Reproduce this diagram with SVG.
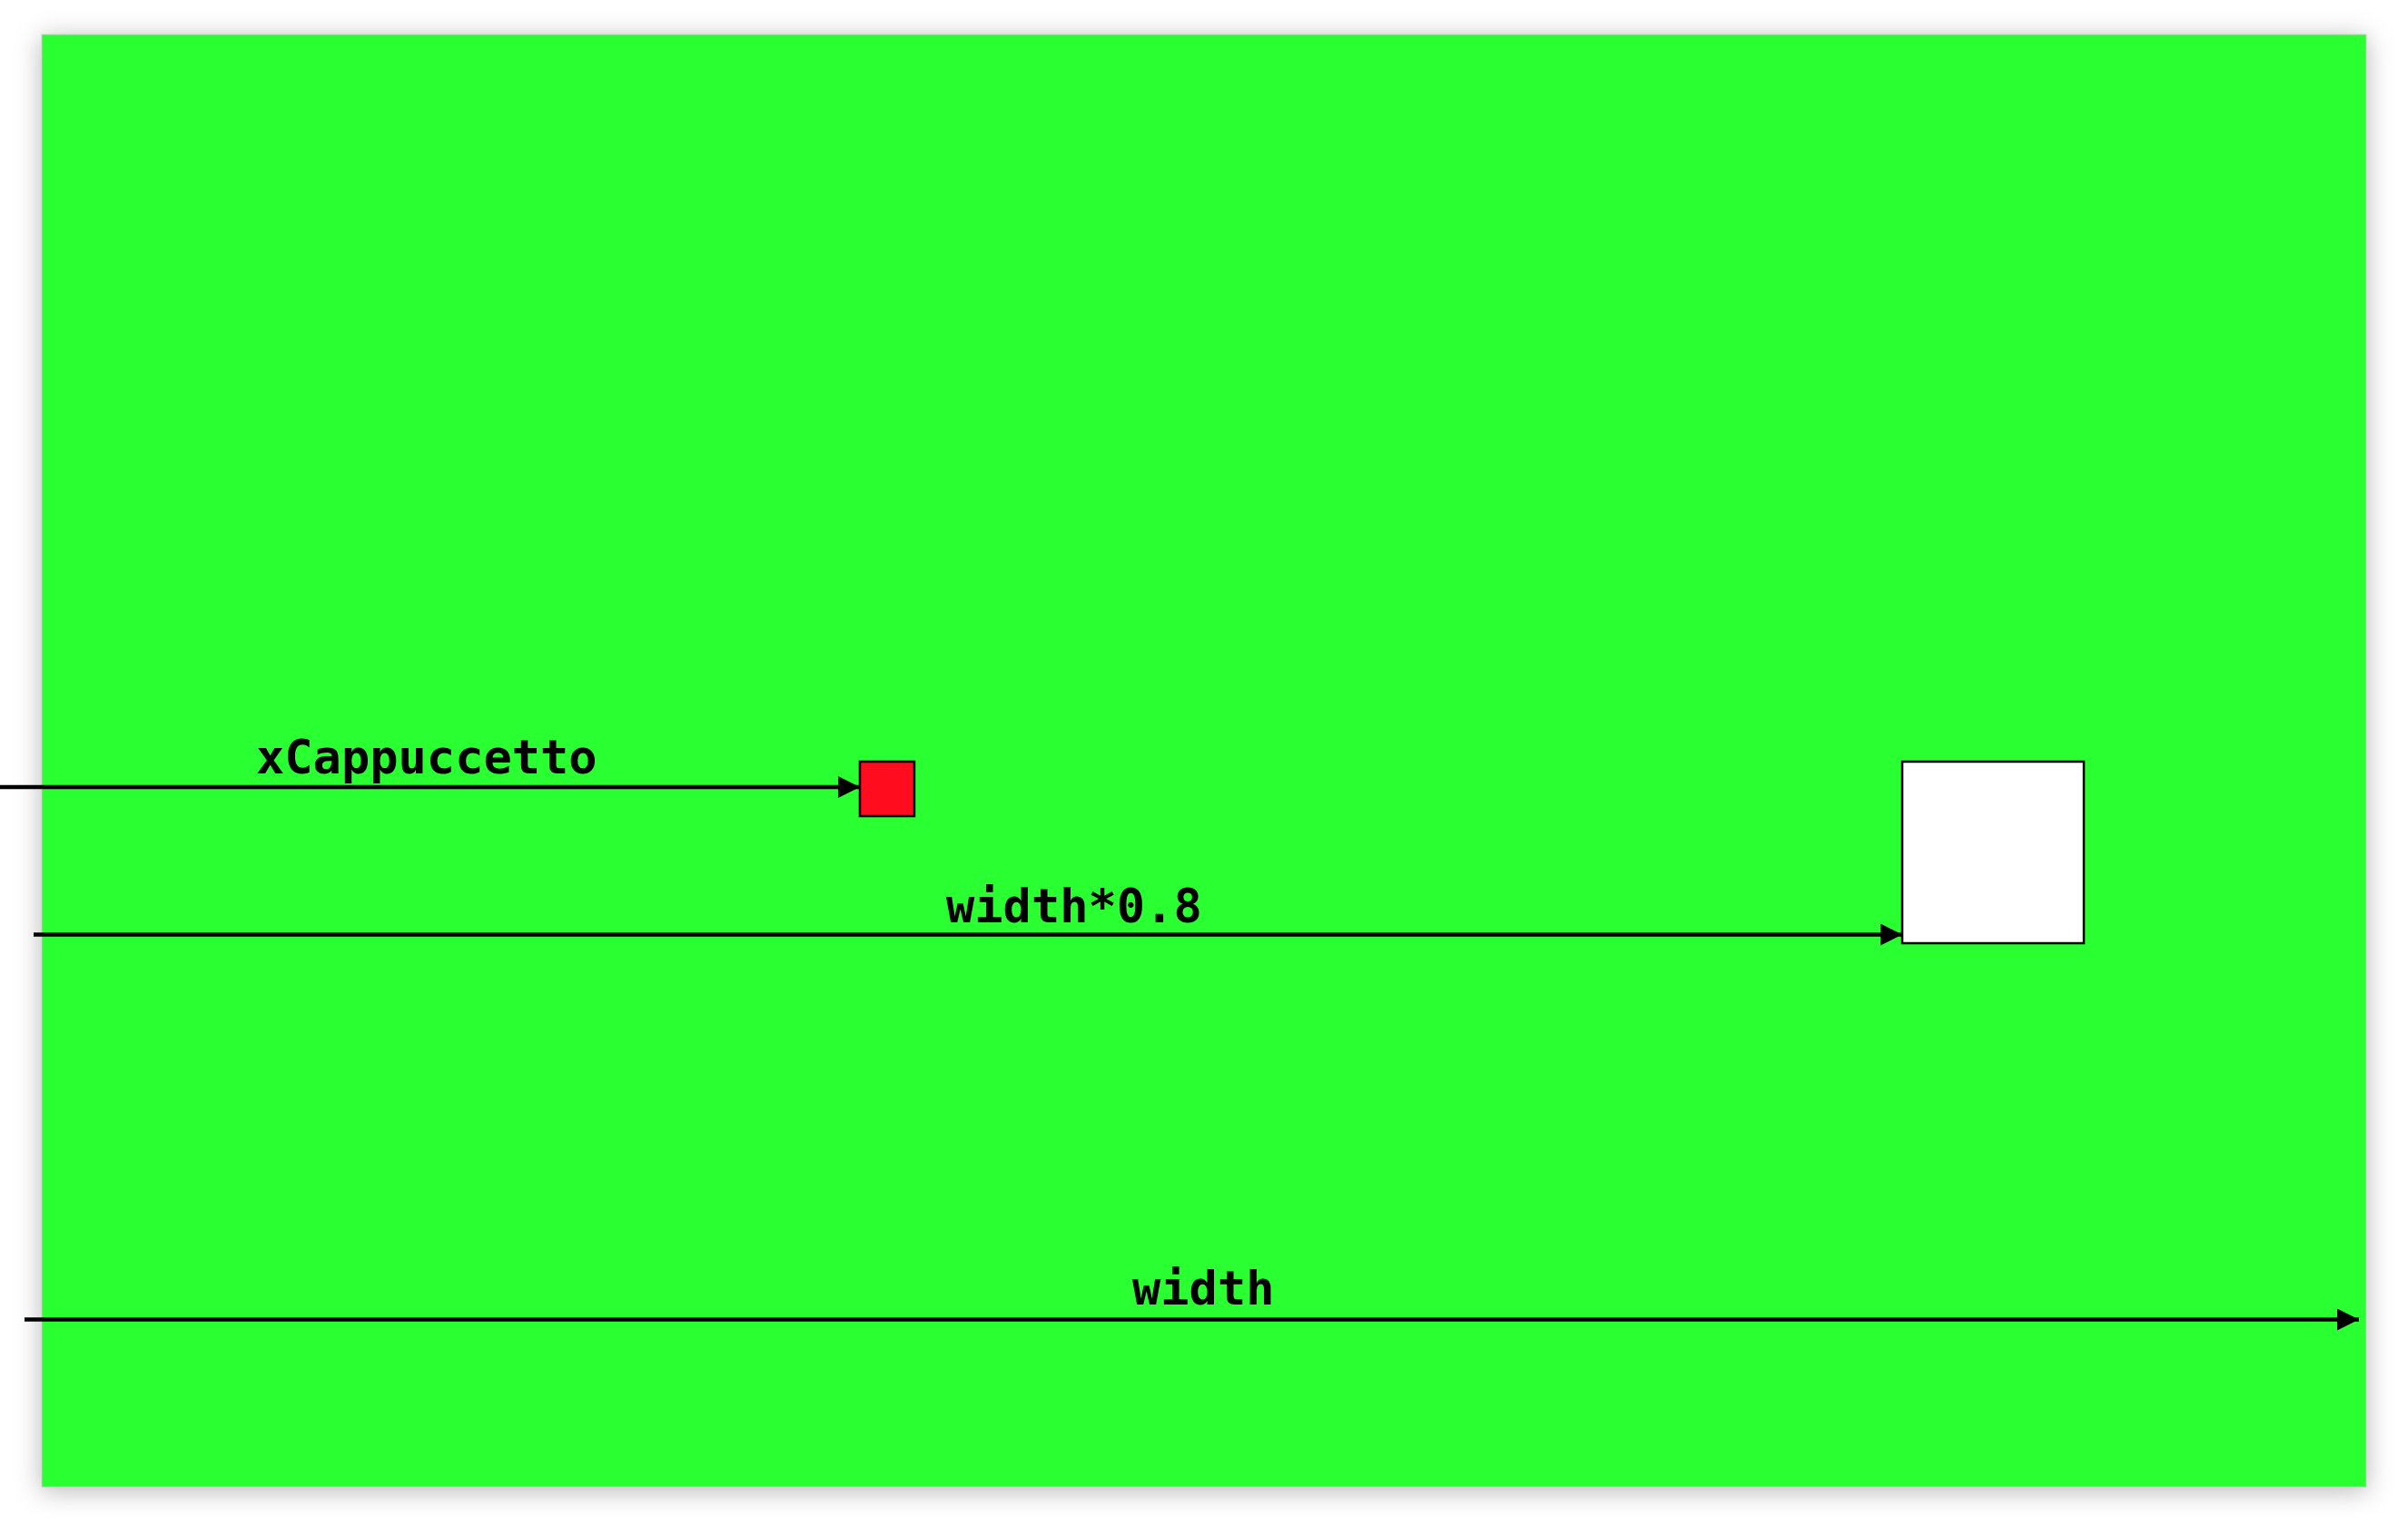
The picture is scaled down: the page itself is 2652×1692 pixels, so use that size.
<svg xmlns="http://www.w3.org/2000/svg" width="2652" height="1692" viewBox="0 0 2652 1692">
<style>
.lbl{font-family:"DejaVu Sans Mono","Liberation Mono",monospace;font-weight:bold;font-size:52px;fill:#000}
.conn{stroke:#000;stroke-width:4.5;fill:none}
.box{stroke:#000;stroke-width:2.5}
</style>
<defs>
<filter id="sh" x="-5%" y="-5%" width="110%" height="110%">
<feDropShadow dx="0" dy="4" stdDeviation="14" flood-color="#000" flood-opacity="0.28"/>
</filter>
<marker id="ah" markerUnits="userSpaceOnUse" markerWidth="24" markerHeight="24" refX="24" refY="12" orient="auto">
<path d="M0,0 L24,12 L0,24 z" fill="#000"/>
</marker>
</defs>
<rect width="2652" height="1692" fill="#fff"/>
<g id="canvas">
<rect x="46" y="38" width="2560" height="1600" fill="#2bff31" stroke="#c8c8c8" stroke-width="1" filter="url(#sh)"/>
</g>
<g id="connectors">
<line class="conn" x1="0" y1="867" x2="947" y2="867" marker-end="url(#ah)"/>
<line class="conn" x1="37" y1="1029.5" x2="2095" y2="1029.5" marker-end="url(#ah)"/>
<line class="conn" x1="27" y1="1453.5" x2="2598" y2="1453.5" marker-end="url(#ah)"/>
<text class="lbl" x="282" y="852">xCappuccetto</text>
<text class="lbl" x="1042" y="1016">width*0.8</text>
<text class="lbl" x="1247" y="1437">width</text>
</g>
<g id="cappuccetto">
<rect class="box" x="947" y="839" width="60" height="60" fill="#ff0c1f"/>
</g>
<g id="target">
<rect class="box" x="2095" y="839" width="200" height="200" fill="#fff"/>
</g>
</svg>
